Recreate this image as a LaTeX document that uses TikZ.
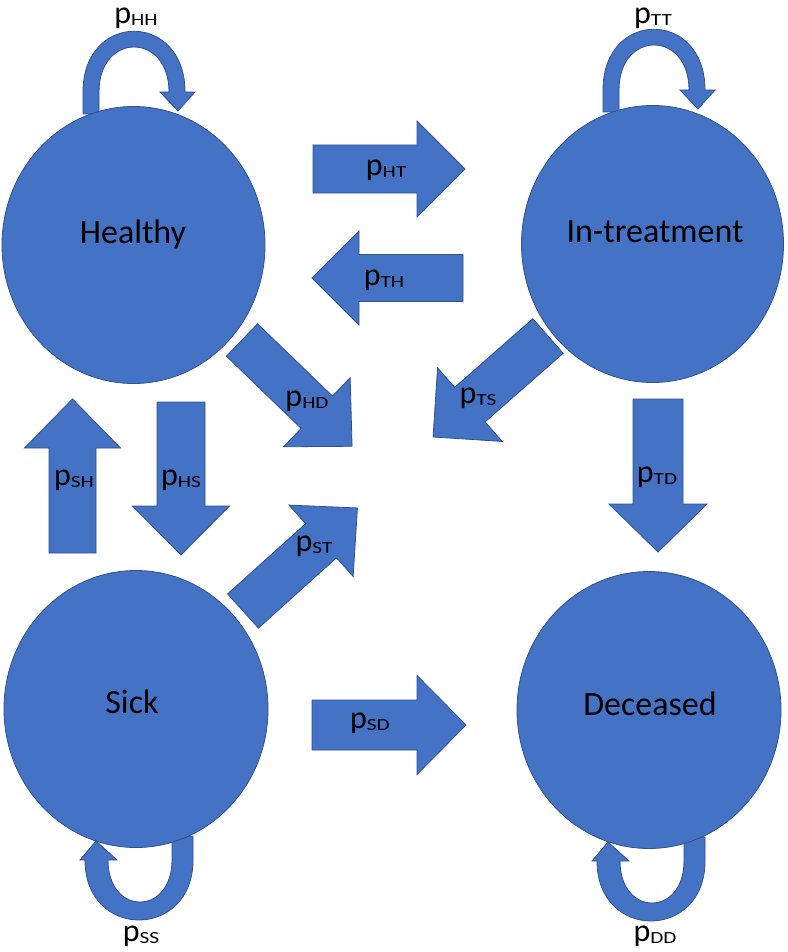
\documentclass[tikz,border=0pt]{standalone}
\usepackage{fontspec}
\setmainfont{Carlito}
\usepackage{graphicx}
\usetikzlibrary{shapes.geometric}
\definecolor{nodeblue}{HTML}{4472C4}
\definecolor{edgeblue}{HTML}{2F528F}
\newcommand\plab[1]{p\raisebox{-2pt}{\fontsize{17}{17}\selectfont\scalebox{1.25}[1]{#1}}}
\newcommand\blockarr[6]{\filldraw[arrowshape, shift={#1}, rotate=#2] (0,-#4) -- ({#3-#6},-#4) -- ({#3-#6},-#5) -- (#3,0) -- ({#3-#6},#5) -- ({#3-#6},#4) -- (0,#4) -- cycle;}
\newcommand\toploop{(83,114) -- (83,92) .. controls (83,11) and (185,11) .. (185,92) -- (195,92) -- (178,111) -- (160,92) -- (169,92) .. controls (169,32) and (99,32) .. (99,92) -- (99,114) -- cycle}
\newcommand\bottomloop{(193,836) -- (193,860) .. controls (193,940) and (85,940) .. (85,860) -- (80,860) -- (96,841) -- (117,860) -- (108,860) .. controls (108,916) and (172,916) .. (172,860) -- (172,836) -- cycle}
\begin{document}
\begin{tikzpicture}[x=1pt,y=-1pt,
  state/.style={ellipse, fill=nodeblue, draw=edgeblue, line width=0.8pt, inner sep=0pt, minimum width=263pt, minimum height=277pt},
  statetext/.style={font=\fontsize{34}{34}\selectfont, text=black, inner sep=0pt},
  arrowshape/.style={fill=nodeblue, draw=edgeblue, line width=0.8pt, line join=miter},
  prob/.style={font=\fontsize{32}{32}\selectfont, inner sep=0pt, text=black}]
\useasboundingbox (0,0) rectangle (787,952);
% self loops (behind states)
\filldraw[arrowshape] \toploop;
\begin{scope}[shift={(520,-2)}]
\filldraw[arrowshape] \toploop;
\end{scope}
\filldraw[arrowshape] \bottomloop;
\begin{scope}[shift={(512,1)}]
\filldraw[arrowshape] \bottomloop;
\end{scope}
% states
\node[state] (H) at (133.5,245) {};
\node[state, minimum width=262pt] (T) at (652.5,244) {};
\node[state, minimum width=264pt] (S) at (136,709) {};
\node[state, minimum width=264pt] (D) at (649,710) {};
\node[statetext] (Ht) at (133,234) {Healthy};
\node[statetext] (Tt) at (655,232) {In-treatment};
\node[statetext] (St) at (132,702) {Sick};
\node[statetext] (Dt) at (650,704) {Deceased};
% transition arrows
\blockarr{(313,169)}{0}{152}{24}{48}{48}
\blockarr{(463,278)}{180}{151}{23.5}{47}{47}
\blockarr{(242,340)}{-44}{153}{22.5}{48}{49}
\blockarr{(72.5,553)}{90}{154}{23.5}{48}{49}
\blockarr{(181,402)}{-90}{153}{24}{48.5}{49}
\blockarr{(243,611)}{42}{154}{23}{48}{49}
\blockarr{(548,336)}{-138.7}{153}{23}{49}{49}
\blockarr{(658,399)}{-90}{153}{25}{49}{48}
\blockarr{(312,725)}{0}{154}{25}{49.5}{49}
% probability labels
\node[prob] (pHH) at (136,18) {\plab{HH}};
\node[prob] (pTT) at (653,18) {\plab{TT}};
\node[prob] (pHT) at (386,170) {\plab{HT}};
\node[prob] (pTH) at (384,280) {\plab{TH}};
\node[prob] (pHD) at (307,401) {\plab{HD}};
\node[prob] (pSH) at (74,480) {\plab{SH}};
\node[prob] (pHS) at (181,480) {\plab{HS}};
\node[prob] (pST) at (314,546) {\plab{ST}};
\node[prob] (pTS) at (478,398) {\plab{TS}};
\node[prob] (pTD) at (657,477) {\plab{TD}};
\node[prob] (pSD) at (370,723) {\plab{SD}};
\node[prob] (pSS) at (141,936) {\plab{SS}};
\node[prob] (pDD) at (655,936) {\plab{DD}};
\end{tikzpicture}
\end{document}
